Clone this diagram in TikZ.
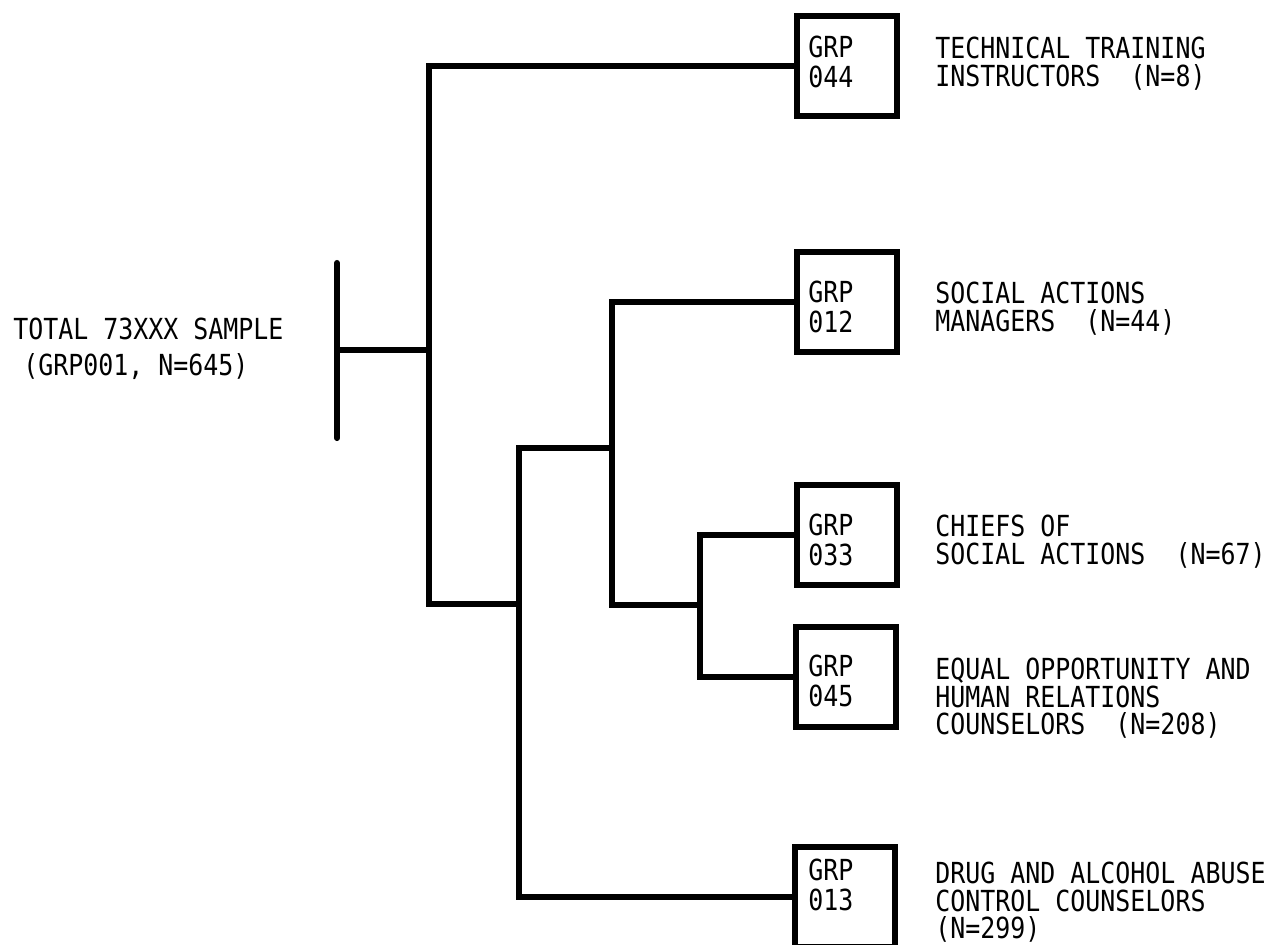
\documentclass[tikz,border=0pt]{standalone}
\usepackage{fontspec}
\newfontfamily\grpfont{DejaVu Sans Mono}[FakeStretch=0.86]
\usetikzlibrary{calc}

\begin{document}
\begin{tikzpicture}[
  x=0.02cm, y=-0.02cm,
  link/.style    = {line width=3.5pt, line cap=rect},
  grpbox/.style  = {draw, line width=3.6pt, minimum width=2cm, minimum height=2cm, inner sep=0pt},
  txt/.style     = {anchor=north west, inner sep=0pt, align=left,
                    font=\grpfont\fontsize{16.5}{15.6}\selectfont},
  codetxt/.style = {txt, font=\grpfont\fontsize{16.5}{17.1}\selectfont}
]
\useasboundingbox (0,0) rectangle (1273,944);

% root sample
\node[txt] (total) at (13,318)
  {TOTAL 73XXX SAMPLE\\[0.16cm]\hspace*{0.2cm}(GRP001, N=645)};
\coordinate (rootTop) at (337,263);
\coordinate (rootBot) at (337,438);
\coordinate (root) at (337,350);

% groups
\node[grpbox] (b044) at (847,66) {};
\node[grpbox] (b012) at (847,302) {};
\node[grpbox] (b033) at (847,535) {};
\node[grpbox] (b045) at (846,677) {};
\node[grpbox] (b013) at (845,897) {};

\node[codetxt] (c044) at (808,36)  {GRP\\044};
\node[codetxt] (c012) at (808,281) {GRP\\012};
\node[codetxt] (c033) at (808,514) {GRP\\033};
\node[codetxt] (c045) at (808,655) {GRP\\045};
\node[codetxt] (c013) at (808,859) {GRP\\013};

\node[txt] (d044) at (935,37)  {TECHNICAL TRAINING\\INSTRUCTORS~~(N=8)};
\node[txt] (d012) at (935,282) {SOCIAL ACTIONS\\MANAGERS~~(N=44)};
\node[txt] (d033) at (935,515) {CHIEFS OF\\SOCIAL ACTIONS~~(N=67)};
\node[txt] (d045) at (935,658) {EQUAL OPPORTUNITY AND\\HUMAN RELATIONS\\COUNSELORS~~(N=208)};
\node[txt] (d013) at (935,862) {DRUG AND ALCOHOL ABUSE\\CONTROL COUNSELORS\\(N=299)};

% splits
\coordinate (s1) at (429,350);
\coordinate (s2) at (519,604);
\coordinate (s3) at (612,448);
\coordinate (s4) at (700,605);

\draw[link, line cap=round] (rootTop) -- (rootBot);
\draw[link] (root) -- (s1);
\draw[link] (b044) -| (s1);
\draw[link] (s1) |- (s2);
\draw[link] (s2) |- (b013);
\draw[link] (s2) |- (s3);
\draw[link] (s3) |- (b012);
\draw[link] (s3) |- (s4);
\draw[link] (s4) |- (b033);
\draw[link] (s4) |- (b045);
\end{tikzpicture}
\end{document}
